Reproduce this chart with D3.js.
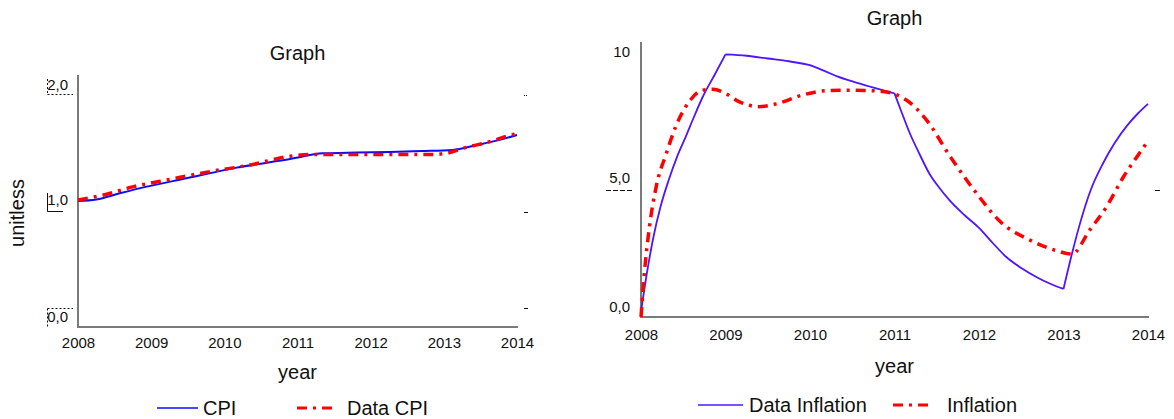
<!DOCTYPE html>
<html><head><meta charset="utf-8">
<script src="https://cdn.jsdelivr.net/npm/d3@7"></script>
<style>
html,body{margin:0;padding:0;background:#fff;}
svg text{font-family:"Liberation Sans",Arial,sans-serif;fill:#111;}
</style></head>
<body><svg id="c" width="1174" height="419"></svg>
<script>
// ---- data ----
const xTickYears = [2008, 2009, 2010, 2011, 2012, 2013, 2014];
const leftYTickLabels = ["2,0", "1,0", "0,0"];
const leftYTickValues = [2, 1, 0];
const rightYTickLabels = ["10", "5,0", "0,0"];
const rightYTickValues = [10, 5, 0];

const cpiYears = [2008.00, 2008.25, 2008.57, 2008.94, 2009.48, 2010.17, 2010.90, 2011.35, 2011.80, 2012.26, 2012.70, 2013.12, 2013.45, 2013.75, 2014.00];
const cpiValues = [1.000, 1.012, 1.061, 1.114, 1.180, 1.265, 1.333, 1.378, 1.385, 1.389, 1.396, 1.405, 1.444, 1.483, 1.524];

const dataCpiYears = [2008.00, 2008.35, 2008.76, 2009.26, 2009.80, 2010.35, 2010.90, 2011.26, 2011.65, 2012.03, 2012.45, 2012.85, 2013.03, 2013.26, 2013.63, 2013.92, 2014.00];
const dataCpiValues = [1.008, 1.048, 1.114, 1.172, 1.233, 1.286, 1.355, 1.370, 1.370, 1.370, 1.370, 1.370, 1.378, 1.418, 1.471, 1.524, 1.532];

const dataInflYears = [2008.00, 2008.07, 2008.14, 2008.23, 2008.33, 2008.43, 2008.53, 2008.63, 2008.73, 2008.87, 2009.00, 2009.25, 2009.50, 2009.75, 2010.00, 2010.17, 2010.33, 2010.52, 2010.72, 2010.86, 2011.00, 2011.09, 2011.18, 2011.30, 2011.41, 2011.53, 2011.65, 2011.83, 2012.00, 2012.16, 2012.32, 2012.50, 2012.70, 2012.85, 2013.00, 2013.10, 2013.20, 2013.32, 2013.47, 2013.60, 2013.75, 2013.88, 2014.00];
const dataInflValues = [0.2, 1.6, 2.8, 4.0, 5.0, 5.85, 6.56, 7.3, 8.0, 8.8, 9.55, 9.5, 9.4, 9.3, 9.16, 8.95, 8.74, 8.55, 8.37, 8.25, 8.13, 7.4, 6.69, 5.9, 5.23, 4.7, 4.25, 3.7, 3.24, 2.7, 2.19, 1.78, 1.42, 1.2, 1.02, 2.3, 3.45, 4.6, 5.6, 6.3, 6.95, 7.4, 7.75];
const dataInflKinks = [2009.00, 2010.00, 2011.00, 2013.00];

const inflYears = [2008.00, 2008.04, 2008.10, 2008.18, 2008.30, 2008.41, 2008.57, 2008.73, 2008.85, 2009.00, 2009.16, 2009.40, 2009.60, 2009.91, 2010.19, 2010.50, 2010.86, 2011.00, 2011.14, 2011.38, 2011.66, 2011.97, 2012.25, 2012.60, 2012.92, 2013.10, 2013.31, 2013.51, 2013.71, 2013.87, 2014.00];
const inflValues = [0.0, 1.6, 3.28, 4.74, 5.95, 6.92, 7.83, 8.25, 8.28, 8.13, 7.83, 7.65, 7.75, 8.07, 8.23, 8.25, 8.2, 8.11, 7.89, 7.16, 5.83, 4.5, 3.47, 2.8, 2.41, 2.29, 3.16, 4.01, 5.1, 5.83, 6.4];

const leftSeriesNames = ["CPI", "Data CPI"];
const rightSeriesNames = ["Data Inflation", "Inflation"];

// ---- drawing ----
const svg = d3.select("#c");
const RED = "#ff0000";
const DASH = "10,6,3,6";
const AXIS = "#7a7a7a";

function splitAt(pts, kinks) {
  if (!kinks) return [pts];
  const segs = [];
  let cur = [];
  pts.forEach(p => {
    cur.push(p);
    if (kinks.includes(p[0])) { segs.push(cur); cur = [p]; }
  });
  if (cur.length > 1) segs.push(cur);
  return segs;
}

function panel(o) {
  const g = svg.append("g");
  const x = d3.scaleLinear().domain([2008, 2014]).range([o.x0, o.x1]);
  const y = d3.scaleLinear().domain([0, o.ymax]).range([o.y0, o.y1]);

  g.append("text").attr("x", (o.x0 + o.x1) / 2).attr("y", o.titleY)
    .attr("text-anchor", "middle").style("font-size", "20px").text("Graph");

  g.append("line").attr("x1", o.x0).attr("x2", o.x0).attr("y1", o.y1).attr("y2", o.y0 + 1)
    .attr("stroke", AXIS).attr("stroke-width", 2);
  g.append("line").attr("x1", o.x0).attr("x2", o.x1 + 1).attr("y1", o.y0).attr("y2", o.y0)
    .attr("stroke", AXIS).attr("stroke-width", 2);

  const xa = d3.axisBottom(x).tickValues(xTickYears).tickFormat(d3.format("d")).tickSize(0).tickPadding(0);
  const xg = g.append("g").attr("transform", `translate(0,${o.y0})`).call(xa);
  xg.select(".domain").remove();
  xg.selectAll("text").attr("y", o.xLabelDy).attr("dy", null)
    .style("font-size", "15px").style("font-family", "Liberation Sans, Arial, sans-serif").attr("fill", "#111");

  g.append("text").attr("x", (o.x0 + o.x1) / 2).attr("y", o.xTitleY)
    .attr("text-anchor", "middle").style("font-size", "20px").text("year");

  o.yLabels.forEach((lab, i) => {
    g.append("text").attr("x", o.yLabelX).attr("y", o.yLabelBase[i])
      .attr("text-anchor", "end").style("font-size", "15px").text(lab);
  });
  if (o.decor) o.decor(g, y);

  const line = d3.line().x(d => x(d[0])).y(d => y(d[1])).curve(d3.curveMonotoneX);
  o.series.forEach(s => {
    const pts = d3.zip(s.xs, s.ys);
    const d = splitAt(pts, s.kinks).map(seg => line(seg)).join("");
    g.append("path").attr("d", d)
      .attr("fill", "none").attr("stroke", s.color).attr("stroke-width", s.w)
      .attr("stroke-linejoin", "round")
      .attr("stroke-dasharray", s.dash || null);
  });

  o.legend.forEach(l => {
    g.append("line").attr("x1", l.lx0).attr("x2", l.lx1).attr("y1", l.ly).attr("y2", l.ly)
      .attr("stroke", l.color).attr("stroke-width", l.w).attr("stroke-dasharray", l.dash || null);
    g.append("text").attr("x", l.tx).attr("y", l.ly + 7).style("font-size", "20px").text(l.name);
  });
  return {x, y};
}

panel({
  x0: 78, x1: 517, y0: 327, y1: 75, ymax: 2,
  titleY: 60, xLabelDy: 21, xTitleY: 379,
  yLabels: leftYTickLabels, yValues: leftYTickValues, yLabelX: 68, yLabelBase: [90, 205, 322],
  series: [
    {xs: cpiYears, ys: cpiValues, color: "#0a0aff", w: 2},
    {xs: dataCpiYears, ys: dataCpiValues, color: RED, w: 3.5, dash: DASH}
  ],
  legend: [
    {name: leftSeriesNames[0], color: "#0a0aff", w: 1.5, lx0: 157, lx1: 198, ly: 408, tx: 203},
    {name: leftSeriesNames[1], color: RED, w: 3, dash: DASH, lx0: 297, lx1: 334, ly: 408, tx: 347}
  ],
  decor: (g, y) => {
    const seg = (x1, y1, x2, y2, dash) => g.append("line").attr("x1", x1).attr("y1", y1).attr("x2", x2).attr("y2", y2)
      .attr("stroke", "#111").attr("stroke-width", 1).attr("stroke-dasharray", dash || null);
    seg(47.5, 79, 47.5, 94.5, "2,2"); seg(47.5, 94.5, 73, 94.5, "2,2");
    seg(47.5, 193, 47.5, 211.5); seg(47.5, 211.5, 63, 211.5);
    seg(47.5, 308.5, 73, 308.5, "2,2"); seg(47.5, 308.5, 47.5, 327, "2,2");
    seg(524, 95.5, 528, 95.5, "1,1"); seg(524, 212.5, 528, 212.5); seg(524, 308.5, 528, 308.5);
  }
});

svg.append("text").attr("transform", "translate(24,213) rotate(-90)")
  .attr("text-anchor", "middle").style("font-size", "20px").text("unitless");

panel({
  x0: 641, x1: 1148, y0: 317, y1: 42, ymax: 10,
  titleY: 25, xLabelDy: 23, xTitleY: 373,
  yLabels: rightYTickLabels, yValues: rightYTickValues, yLabelX: 630, yLabelBase: [57, 183, 312],
  series: [
    {xs: dataInflYears, ys: dataInflValues, color: "#5014ff", w: 1.8, kinks: dataInflKinks},
    {xs: inflYears, ys: inflValues, color: RED, w: 3.5, dash: DASH}
  ],
  legend: [
    {name: rightSeriesNames[0], color: "#5014ff", w: 1.5, lx0: 698, lx1: 743, ly: 405, tx: 749},
    {name: rightSeriesNames[1], color: RED, w: 3, dash: DASH, lx0: 893, lx1: 932, ly: 405, tx: 947}
  ],
  decor: (g, y) => {
    g.append("line").attr("x1", 606).attr("x2", 634).attr("y1", 190.5).attr("y2", 190.5)
      .attr("stroke", "#111").attr("stroke-width", 1).attr("stroke-dasharray", "5,2");
    g.append("line").attr("x1", 1155).attr("x2", 1160).attr("y1", 190.5).attr("y2", 190.5)
      .attr("stroke", "#111").attr("stroke-width", 1);
  }
});
</script></body></html>
